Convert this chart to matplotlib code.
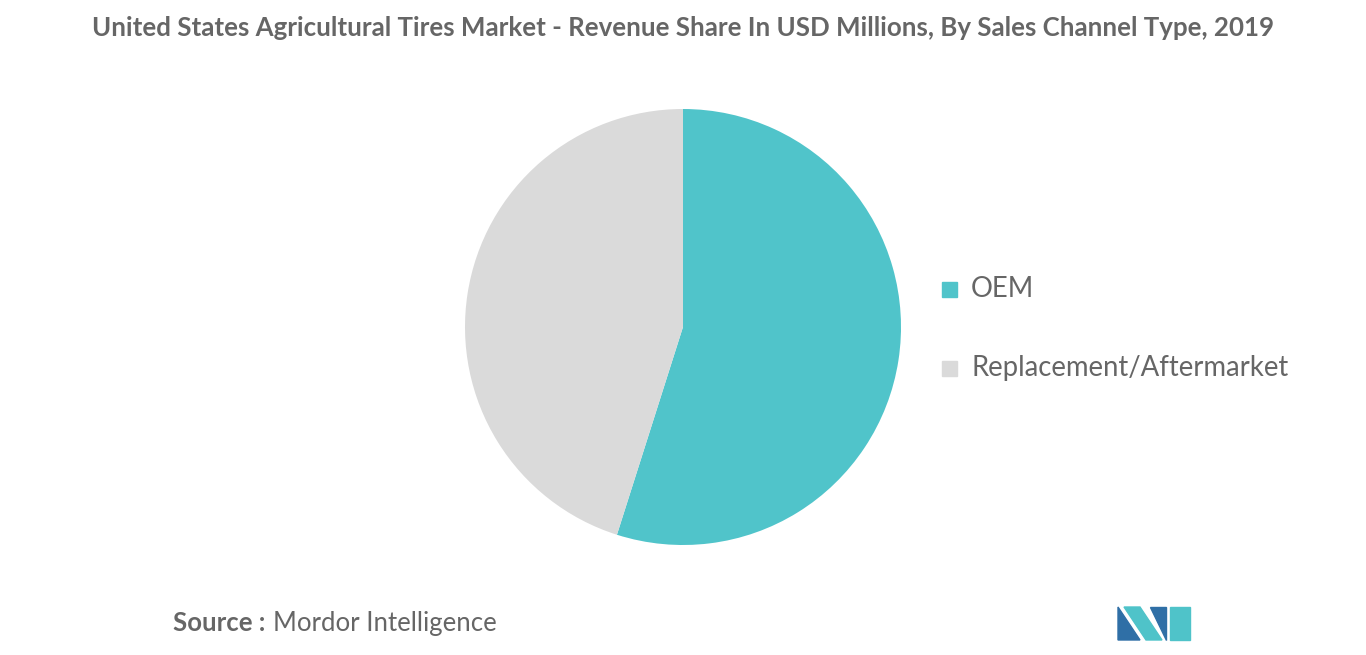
import matplotlib
matplotlib.use("Agg")
import matplotlib.pyplot as plt
from matplotlib.patches import Polygon

categories = ["OEM", "Replacement/Aftermarket"]
values = [54.9, 45.1]
colors = ["#50c4ca", "#dadada"]

fig = plt.figure(figsize=(13.66, 6.55), dpi=100)
fig.patch.set_facecolor("white")
ax = fig.add_axes([683/1366 - 218/1366, 1 - (327+218)/655, 436/1366, 436/655])
wedges, _ = ax.pie(values, colors=colors, startangle=90, counterclock=False,
                   wedgeprops=dict(linewidth=0))
ax.set_xlim(-1, 1)
ax.set_ylim(-1, 1)
ax.set_aspect("equal")

fig.text(0.5, 1 - 28/655, "United States Agricultural Tires Market - Revenue Share In USD Millions, By Sales Channel Type, 2019",
         ha="center", va="center", fontsize=18.6, color="#666666", fontweight="bold", family="Lato")

for i, (c, col) in enumerate(zip(categories, colors)):
    y = 1 - (289 + i * 79) / 655
    fig.patches.append(plt.Rectangle((942/1366, y - 8/655), 15/1366, 15/655,
                                     transform=fig.transFigure, color=col))
    fig.text(971/1366, y, c, va="center", ha="left", fontsize=19.8, color="#666666", family="Lato")

fig.text(173/1366, 1 - 623/655, "Source :", va="center", ha="left", fontsize=18.5,
         color="#666666", fontweight="bold", family="Lato")
fig.text(273/1366, 1 - 623/655, "Mordor Intelligence", va="center", ha="left", fontsize=18.5,
         color="#666666", family="Lato")

# logo
def P(pts, col):
    fig.patches.append(Polygon([(x/1366, 1 - y/655) for x, y in pts], closed=True,
                               transform=fig.transFigure, color=col))
P([(1118, 640), (1118, 607), (1140, 640)], "#2f6fa6")
P([(1124, 607), (1140, 607), (1162, 640), (1146, 640)], "#4fc3c9")
P([(1150, 607), (1166, 607), (1166, 640)], "#2f6fa6")
P([(1170, 607), (1190, 607), (1190, 640), (1170, 640)], "#4fc3c9")

fig.savefig("out.png", dpi=100, facecolor="white")
